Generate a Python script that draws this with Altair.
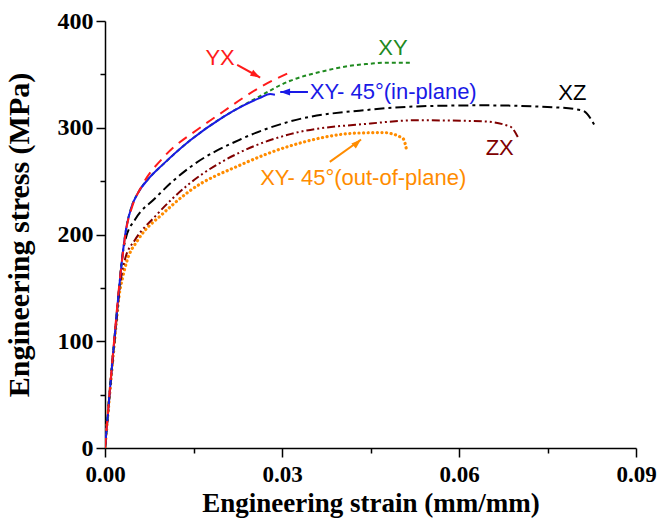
import altair as alt
import pandas as pd

# ---- data ----
strain_YX = [0, 0.0006, 0.0012, 0.0018, 0.0024, 0.0029, 0.0036, 0.0046, 0.0063, 0.0102, 0.0161, 0.0200, 0.0234, 0.0263, 0.0310]
stress_YX = [0, 40, 79, 116, 152, 176, 205, 226, 246, 274, 300, 315, 328, 338, 351]

strain_XY = [0, 0.0006, 0.0012, 0.0018, 0.0024, 0.0030, 0.0036, 0.0045, 0.0056, 0.0075, 0.0097, 0.0144, 0.0200, 0.0251, 0.0314, 0.0370, 0.0415, 0.0450, 0.0471, 0.0517]
stress_XY = [0, 39, 78, 114, 150, 182, 206, 226, 239, 253, 265, 288, 310, 326, 344, 353, 358, 360, 361, 361]

strain_XY45in = [0, 0.0006, 0.0012, 0.0018, 0.0024, 0.0030, 0.0036, 0.0045, 0.0056, 0.0075, 0.0097, 0.0144, 0.0200, 0.0235, 0.0263, 0.0280, 0.0288]
stress_XY45in = [0, 39, 78, 114, 150, 182, 206, 226, 239, 253, 265, 288, 310, 321, 328, 331.5, 331]

strain_XZ = [0, 0.0006, 0.0012, 0.0018, 0.0024, 0.0029, 0.0035, 0.0051, 0.0085, 0.0115, 0.0144, 0.0229, 0.0314, 0.0450, 0.0529, 0.0640, 0.0766, 0.0810, 0.0831]
stress_XZ = [0, 40, 78, 114, 150, 178, 196, 214, 234, 250, 263, 289, 306, 317, 320, 321, 319, 316, 301]

strain_ZX = [0, 0.0006, 0.0012, 0.0018, 0.0024, 0.0029, 0.0034, 0.0051, 0.0085, 0.0115, 0.0144, 0.0229, 0.0314, 0.0450, 0.0529, 0.0640, 0.0687, 0.0700]
stress_ZX = [0, 38, 76, 111, 145, 165, 177, 195, 217, 234, 248, 277, 294, 304, 307, 306, 301, 291]

strain_XY45out = [0, 0.0006, 0.0012, 0.0018, 0.0024, 0.0030, 0.0037, 0.0056, 0.0097, 0.0115, 0.0144, 0.0229, 0.0314, 0.0427, 0.0471, 0.0505, 0.0512]
stress_XY45out = [0, 38, 75, 110, 143, 160, 175, 195, 219, 228, 241, 265, 283, 295, 295.5, 290, 277]

x_ticks_all = [0.0, 0.015, 0.03, 0.045, 0.06, 0.075, 0.09]
y_ticks_all = [0, 50, 100, 150, 200, 250, 300, 350, 400]

label_text = ["YX", "XY", "XY- 45°(in-plane)", "XZ", "ZX", "XY- 45°(out-of-plane)"]
label_x = [0.0195, 0.0488, 0.0347, 0.0792, 0.0669, 0.0263]
label_y = [365, 375, 333.5, 333, 281, 253]
label_align = ["center", "center", "left", "center", "center", "left"]

arrow_x = [0.0224, 0.0344, 0.0381]
arrow_y = [359, 333.5, 268]
arrow_x2 = [0.0263, 0.0297, 0.0434]
arrow_y2 = [347, 333.5, 289]
arrow_angle = [119, 270, 49]

colors = {"YX": "#ff1a1a", "XY": "#1f8a1f", "XY45in": "#1a1ae6", "XZ": "#000000",
          "ZX": "#800000", "XY45out": "#ff8c00"}
label_colors = ["#ff1a1a", "#1f8a1f", "#1a1ae6", "#000000", "#800000", "#ff8c00"]
arrow_colors = ["#ff1a1a", "#1a1ae6", "#ff8c00"]

x_scale = alt.Scale(domain=[0, 0.09], nice=False, zero=False)
y_scale = alt.Scale(domain=[0, 400], nice=False)

MAJOR_X = "abs(datum.value*100/3 - round(datum.value*100/3)) < 0.01"
x_axis = alt.Axis(
    title="Engineering strain (mm/mm)", values=x_ticks_all, format=".2f",
    labelExpr=MAJOR_X + " ? format(datum.value, '.2f') : ''",
    tickSize={"condition": {"test": MAJOR_X, "value": 9}, "value": 5},
    grid=False, domainColor="black", domainWidth=1.5, tickColor="black", tickWidth=1.5,
    labelFont="Liberation Serif", labelFontWeight="bold", labelFontSize=23, labelColor="black",
    labelPadding=6, titleFont="Liberation Serif", titleFontWeight="bold", titleFontSize=27,
    titleColor="black", titlePadding=4, labelFlush=False, labelOverlap=False)

y_axis = alt.Axis(
    title="Engineering stress (MPa)", values=y_ticks_all,
    labelExpr="datum.value % 100 == 0 ? format(datum.value, 'd') : ''",
    tickSize={"condition": {"test": "datum.value % 100 == 0", "value": 9}, "value": 5},
    grid=False, domainColor="black", domainWidth=1.5, tickColor="black", tickWidth=1.5,
    labelFont="Liberation Serif", labelFontWeight="bold", labelFontSize=24, labelColor="black",
    labelPadding=3, titleFont="Liberation Serif", titleFontWeight="bold", titleFontSize=30,
    titleColor="black", titlePadding=23, labelFlush=False, labelOverlap=False)


def curve(name, xs, ys, dash=None, width=2.0, cap="butt"):
    df = pd.DataFrame({"strain": xs, "stress": ys, "order": range(len(xs))})
    kw = dict(color=colors[name], strokeWidth=width, interpolate="monotone", strokeCap=cap, clip=True)
    if dash:
        kw["strokeDash"] = dash
    return alt.Chart(df).mark_line(**kw).encode(
        x=alt.X("strain:Q", scale=x_scale, axis=x_axis),
        y=alt.Y("stress:Q", scale=y_scale, axis=y_axis),
        order="order:Q")


layers = [
    curve("XY45out", strain_XY45out, stress_XY45out, dash=[0.1, 4.5], width=3.2, cap="round"),
    curve("ZX", strain_ZX, stress_ZX, dash=[8, 3, 2, 3, 2, 3]),
    curve("XZ", strain_XZ, stress_XZ, dash=[10, 4, 3, 4]),
    curve("XY", strain_XY, stress_XY, dash=[4, 3]),
    curve("XY45in", strain_XY45in, stress_XY45in),
    curve("YX", strain_YX, stress_YX, dash=[10, 7]),
]

arrows_df = pd.DataFrame({"x": arrow_x, "y": arrow_y, "x2": arrow_x2, "y2": arrow_y2,
                          "angle": arrow_angle, "c": arrow_colors})
arrow_lines = alt.Chart(arrows_df).mark_rule(strokeWidth=2).encode(
    x=alt.X("x:Q", scale=x_scale), y=alt.Y("y:Q", scale=y_scale),
    x2="x2:Q", y2="y2:Q", color=alt.Color("c:N", scale=None))
arrow_heads = alt.Chart(arrows_df).mark_point(
    shape="M0,0L-0.45,1.3L0.45,1.3Z", filled=True, opacity=1, size=230, strokeWidth=0).encode(
    x=alt.X("x2:Q", scale=x_scale), y=alt.Y("y2:Q", scale=y_scale),
    angle=alt.Angle("angle:Q", scale=None), color=alt.Color("c:N", scale=None))

labels_df = pd.DataFrame({"x": label_x, "y": label_y, "t": label_text,
                          "c": label_colors, "a": label_align})
text_layers = []
for al in ["center", "left"]:
    sub = labels_df[labels_df["a"] == al]
    text_layers.append(alt.Chart(sub).mark_text(
        align=al, baseline="middle", font="Liberation Sans", fontSize=22).encode(
        x=alt.X("x:Q", scale=x_scale), y=alt.Y("y:Q", scale=y_scale),
        text="t:N", color=alt.Color("c:N", scale=None)))

chart = alt.layer(*layers, arrow_lines, arrow_heads, *text_layers).properties(
    width=531, height=427,
    autosize=alt.AutoSizeParams(type="none"),
    padding={"left": 105, "top": 21, "right": 24, "bottom": 78},
    background="white",
).configure_view(stroke=None)

chart.save("out.html", embed_options={"renderer": "svg", "actions": False})
